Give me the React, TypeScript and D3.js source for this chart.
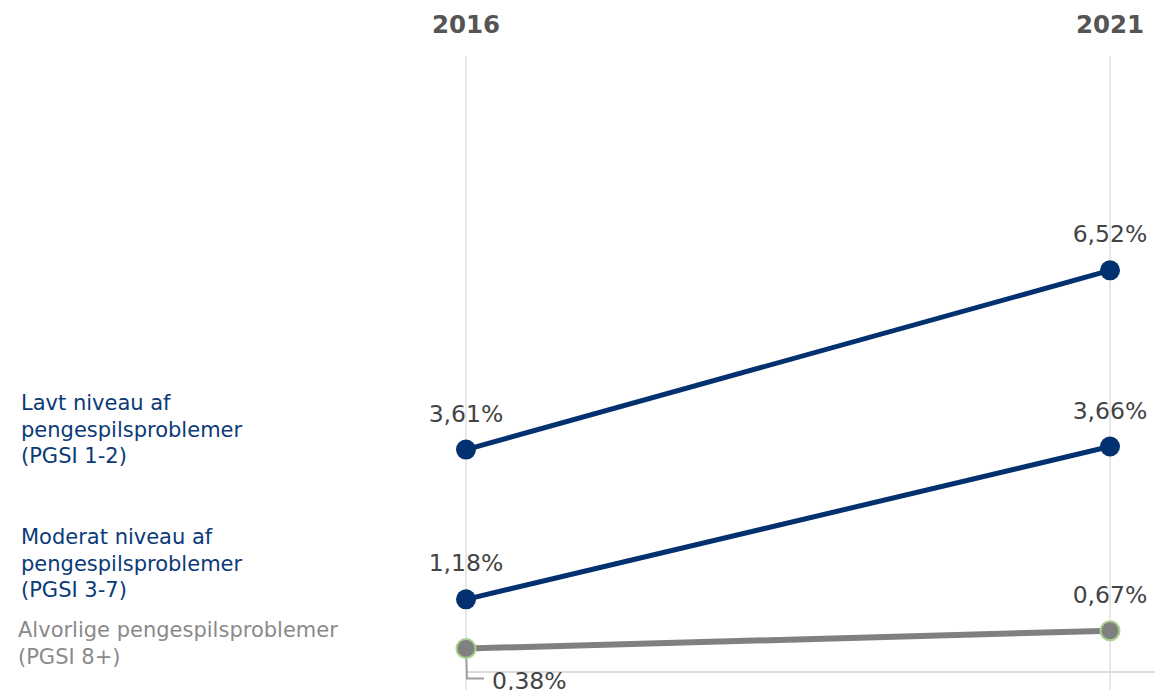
import React from "react";
import * as d3 from "d3";

const years = ["2016", "2021"];
const seriesNames = ["Lavt niveau af|pengespilsproblemer|(PGSI 1-2)", "Moderat niveau af|pengespilsproblemer|(PGSI 3-7)", "Alvorlige pengespilsproblemer|(PGSI 8+)"];
const lavtValues = [3.61, 6.52];
const moderatValues = [1.18, 3.66];
const alvorligeValues = [0.38, 0.67];

const W = 1155, H = 690;
const FONT = "'DejaVu Sans', Verdana, sans-serif";
const NAVY = "#03316f";
const GREY = "#808080";

export default function App() {
  const x = d3.scalePoint<string>().domain(years).range([466, 1110]);
  const y = d3.scaleLinear().domain([0, 10]).range([672, 56]);
  const fmt = (v: number) => v.toFixed(2).replace(".", ",") + "%";
  const series = [
    { name: seriesNames[0], values: lavtValues, color: NAVY, width: 5, stroke: NAVY, labelColor: "#0b3a78", labelX: 21, labelY: 410 },
    { name: seriesNames[1], values: moderatValues, color: NAVY, width: 5, stroke: NAVY, labelColor: "#0b3a78", labelX: 21, labelY: 544 },
    { name: seriesNames[2], values: alvorligeValues, color: GREY, width: 6, stroke: "#a9d18e", labelColor: "#8a8a8a", labelX: 18, labelY: 637 },
  ];
  const line = d3.line<number>().x((_, i) => x(years[i])!).y((d) => y(d));
  return (
    <svg width={W} height={H} style={{ position: "absolute", left: 0, top: 0, background: "#fff" }} fontFamily={FONT}>
      {years.map((yr) => (
        <g key={yr}>
          <line x1={x(yr)} x2={x(yr)} y1={y(10)} y2={H} stroke="#e8e8e8" strokeWidth={2} />
          <text x={x(yr)} y={33} textAnchor="middle" fontSize={24.5} fontWeight="bold" fill="#555">{yr}</text>
        </g>
      ))}
      <line x1={x(years[0])} x2={W} y1={y(0)} y2={y(0)} stroke="#dcdcdc" strokeWidth={2} />
      {series.map((s, si) => (
        <g key={si}>
          <path d={line(s.values)!} fill="none" stroke={s.color} strokeWidth={s.width} />
          {s.name.split("|").map((t, li) => (
            <text key={li} x={s.labelX} y={s.labelY + li * 26.5} fontSize={21} fill={s.labelColor}>{t}</text>
          ))}
        </g>
      ))}
      <polyline
        points={`${x(years[0])},${y(alvorligeValues[0])} ${x(years[0]) + 1},${y(alvorligeValues[0]) + 30} ${x(years[0]) + 18},${y(alvorligeValues[0]) + 30}`}
        fill="none" stroke="#a0a0a0" strokeWidth={2}
      />
      {series.map((s, si) =>
        s.values.map((v, i) => (
          <circle key={`${si}-${i}`} cx={x(years[i])} cy={y(v)} r={s.color === GREY ? 9.5 : 10} fill={s.color} stroke={s.stroke} strokeWidth={s.color === GREY ? 2 : 0} />
        ))
      )}
      {series.map((s, si) =>
        s.values.map((v, i) => {
          const isLeader = si === 2 && i === 0;
          return (
            <text key={`l${si}-${i}`} x={isLeader ? x(years[i])! + 26 : x(years[i])} y={isLeader ? y(v) + 40 : y(v) - 28}
              textAnchor={isLeader ? "start" : "middle"} fontSize={23.5} fill="#444">{fmt(v)}</text>
          );
        })
      )}
    </svg>
  );
}
